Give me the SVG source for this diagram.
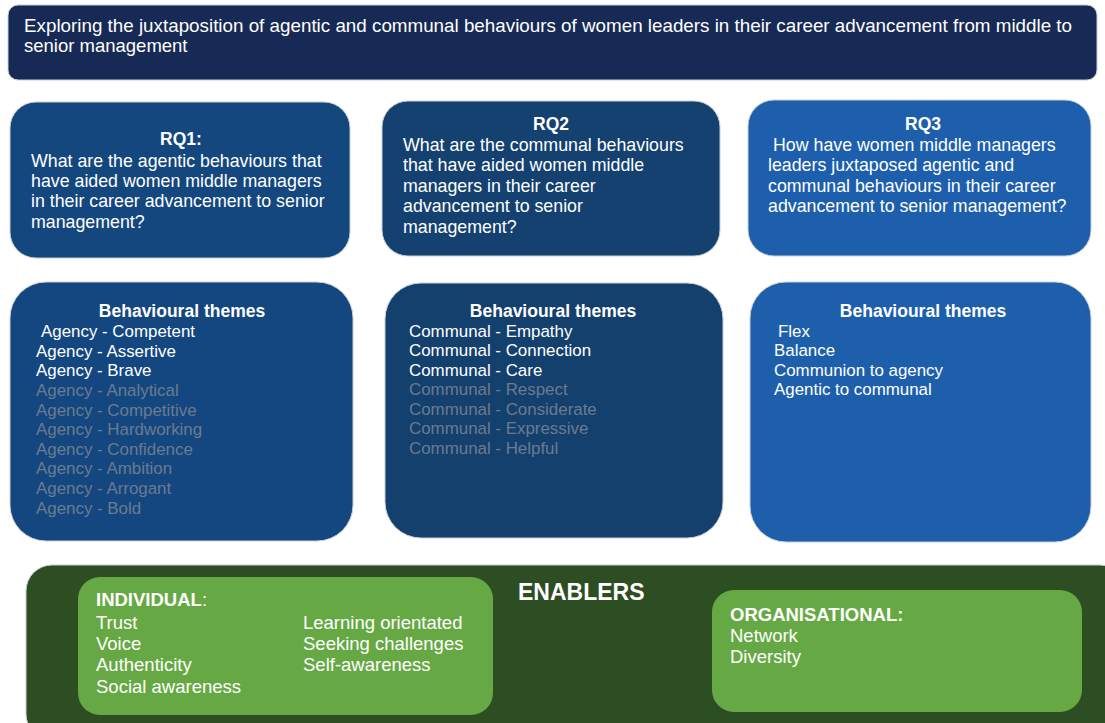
<svg xmlns="http://www.w3.org/2000/svg" width="1105" height="723" viewBox="0 0 1105 723">
  <style>
    text { font-family: "Liberation Sans", Arial, sans-serif; fill: #ffffff; }
    .title { font-size: 18.5px; }
    .rq { font-size: 17.8px; }
    .rqh { font-size: 17.5px; font-weight: bold; text-anchor: middle; }
    .th { font-size: 17.5px; font-weight: bold; text-anchor: middle; }
    .item { font-size: 16.9px; }
    .dim { fill: #6b7b8f; }
    .en { font-size: 18.5px; }
    .enh { font-size: 18.5px; font-weight: bold; }
    .big { font-size: 23px; font-weight: bold; }
    .edge { stroke: #c9ced6; stroke-width: 1; }
  </style>

  <rect width="1105" height="723" fill="#ffffff"/>

  <!-- Study aim banner -->
  <g id="aim">
    <rect x="8" y="5" width="1089" height="75" rx="10" fill="#172a56" class="edge"/>
    <text class="title" x="24" y="32" textLength="1048" lengthAdjust="spacingAndGlyphs">Exploring the juxtaposition of agentic and communal behaviours of women leaders in their career advancement from middle to</text>
    <text class="title" x="24" y="52">senior management</text>
  </g>

  <!-- Research questions -->
  <g id="rq1">
    <rect x="10" y="102" width="340" height="156" rx="26" fill="#15477f" class="edge"/>
    <text class="rqh" x="181" y="145">RQ1:</text>
    <text class="rq" x="31" y="167">What are the agentic behaviours that</text>
    <text class="rq" x="31" y="187">have aided women middle managers</text>
    <text class="rq" x="31" y="207">in their career advancement to senior</text>
    <text class="rq" x="31" y="228">management?</text>
  </g>

  <g id="rq2">
    <rect x="382" y="101" width="338" height="155" rx="26" fill="#14416f" class="edge"/>
    <text class="rqh" x="551" y="130">RQ2</text>
    <text class="rq" x="403" y="151">What are the communal behaviours</text>
    <text class="rq" x="403" y="171">that have aided women middle</text>
    <text class="rq" x="403" y="192">managers in their career</text>
    <text class="rq" x="403" y="212">advancement to senior</text>
    <text class="rq" x="403" y="233">management?</text>
  </g>

  <g id="rq3">
    <rect x="748" y="100" width="343" height="156" rx="26" fill="#1e5fad" class="edge"/>
    <text class="rqh" x="923" y="130">RQ3</text>
    <text class="rq" x="773" y="151">How have women middle managers</text>
    <text class="rq" x="768" y="171">leaders juxtaposed agentic and</text>
    <text class="rq" x="768" y="192">communal behaviours in their career</text>
    <text class="rq" x="768" y="212">advancement to senior management?</text>
  </g>

  <!-- Behavioural themes -->
  <g id="themes1">
    <rect x="10" y="282" width="343" height="259" rx="36" fill="#144780" class="edge"/>
    <text class="th" x="182" y="317">Behavioural themes</text>
    <text class="item" x="41" y="337">Agency - Competent</text>
    <text class="item" x="36" y="357">Agency - Assertive</text>
    <text class="item" x="36" y="376">Agency - Brave</text>
    <text class="item dim" x="36" y="396">Agency - Analytical</text>
    <text class="item dim" x="36" y="416">Agency - Competitive</text>
    <text class="item dim" x="36" y="435">Agency - Hardworking</text>
    <text class="item dim" x="36" y="455">Agency - Confidence</text>
    <text class="item dim" x="36" y="474">Agency - Ambition</text>
    <text class="item dim" x="36" y="494">Agency - Arrogant</text>
    <text class="item dim" x="36" y="514">Agency - Bold</text>
  </g>

  <g id="themes2">
    <rect x="385" y="283" width="338" height="255" rx="36" fill="#14406e" class="edge"/>
    <text class="th" x="553" y="317">Behavioural themes</text>
    <text class="item" x="409" y="337">Communal - Empathy</text>
    <text class="item" x="409" y="356">Communal - Connection</text>
    <text class="item" x="409" y="376">Communal - Care</text>
    <text class="item dim" x="409" y="395">Communal - Respect</text>
    <text class="item dim" x="409" y="415">Communal - Considerate</text>
    <text class="item dim" x="409" y="434">Communal - Expressive</text>
    <text class="item dim" x="409" y="454">Communal - Helpful</text>
  </g>

  <g id="themes3">
    <rect x="750" y="282" width="341" height="260" rx="36" fill="#1e5fac" class="edge"/>
    <text class="th" x="923" y="317">Behavioural themes</text>
    <text class="item" x="778" y="337">Flex</text>
    <text class="item" x="774" y="356">Balance</text>
    <text class="item" x="774" y="376">Communion to agency</text>
    <text class="item" x="774" y="395">Agentic to communal</text>
  </g>

  <!-- Enablers -->
  <g id="enablers">
    <rect x="26" y="565" width="1100" height="175" rx="26" fill="#2d4d23" class="edge"/>
    <text class="big" x="518" y="600">ENABLERS</text>
  </g>

  <g id="individual">
    <rect x="78" y="577" width="415" height="138" rx="22" fill="#66a944"/>
    <text class="enh" x="96" y="606">INDIVIDUAL<tspan font-weight="normal">:</tspan></text>
    <text class="en" x="96" y="629">Trust</text>
    <text class="en" x="96" y="650">Voice</text>
    <text class="en" x="96" y="671">Authenticity</text>
    <text class="en" x="96" y="693">Social awareness</text>
    <text class="en" x="303" y="629">Learning orientated</text>
    <text class="en" x="303" y="650">Seeking challenges</text>
    <text class="en" x="303" y="671">Self-awareness</text>
  </g>

  <g id="organisational">
    <rect x="712" y="590" width="370" height="122" rx="22" fill="#66a944"/>
    <text class="enh" x="730" y="621">ORGANISATIONAL:</text>
    <text class="en" x="730" y="642">Network</text>
    <text class="en" x="730" y="663">Diversity</text>
  </g>
</svg>
